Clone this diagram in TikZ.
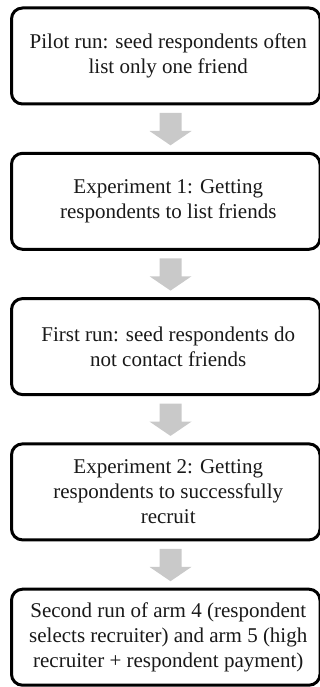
\documentclass[tikz,border=0pt]{standalone}
\usepackage{fontspec}
\setmainfont{Liberation Serif}
\definecolor{arrowgrey}{RGB}{201,201,201}
\tikzset{
  stagebox/.style={draw=black, line width=3pt, rounded corners=11pt, fill=white,
    minimum width=308.5pt, minimum height=96pt, inner sep=0pt},
  stagetext/.style={align=center, inner sep=0pt, text=black!90,
    font=\fontsize{21}{25}\selectfont},
  arrowfill/.style={fill=arrowgrey, draw=none}
}
\newcommand\flowarrow[2]{%
  \fill[arrowfill]
    ([xshift=-6.25pt,yshift=-7.5pt]#1.south) --
    ([xshift=15.75pt,yshift=-7.5pt]#1.south) --
    ([xshift=15.75pt,yshift=-25.5pt]#1.south) --
    ([xshift=25.75pt,yshift=-25.5pt]#1.south) --
    ([xshift=4.75pt,yshift=6.5pt]#2.north) --
    ([xshift=-16.25pt,yshift=-25.5pt]#1.south) --
    ([xshift=-6.25pt,yshift=-25.5pt]#1.south) -- cycle;}
\begin{document}
\begin{tikzpicture}[x=1pt,y=-1pt]
\useasboundingbox (0,0) rectangle (320,687);
\clip (0,0) rectangle (320,687);
\node[stagebox] (b1) at (165.75,56) {};
\node[stagebox] (b2) at (165.75,201.3) {};
\node[stagebox] (b3) at (165.75,346.6) {};
\node[stagebox] (b4) at (165.75,491.9) {};
\node[stagebox] (b5) at (165.75,637.2) {};
\node[stagetext] (t1) at ([xshift=2.5pt]b1.center) {Pilot run: seed respondents often\\list only one friend};
\node[stagetext] (t2) at ([xshift=2.5pt]b2.center) {Experiment 1: Getting\\respondents to list friends};
\node[stagetext] (t3) at ([xshift=2.5pt]b3.center) {First run: seed respondents do\\not contact friends};
\node[stagetext] (t4) at ([xshift=2.5pt]b4.center) {Experiment 2: Getting\\respondents to successfully\\recruit};
\node[stagetext] (t5) at ([xshift=2.5pt]b5.center) {Second run of arm 4 (respondent\\selects recruiter) and arm 5 (high\\recruiter + respondent payment)};
\flowarrow{b1}{b2}
\flowarrow{b2}{b3}
\flowarrow{b3}{b4}
\flowarrow{b4}{b5}
\end{tikzpicture}
\end{document}
